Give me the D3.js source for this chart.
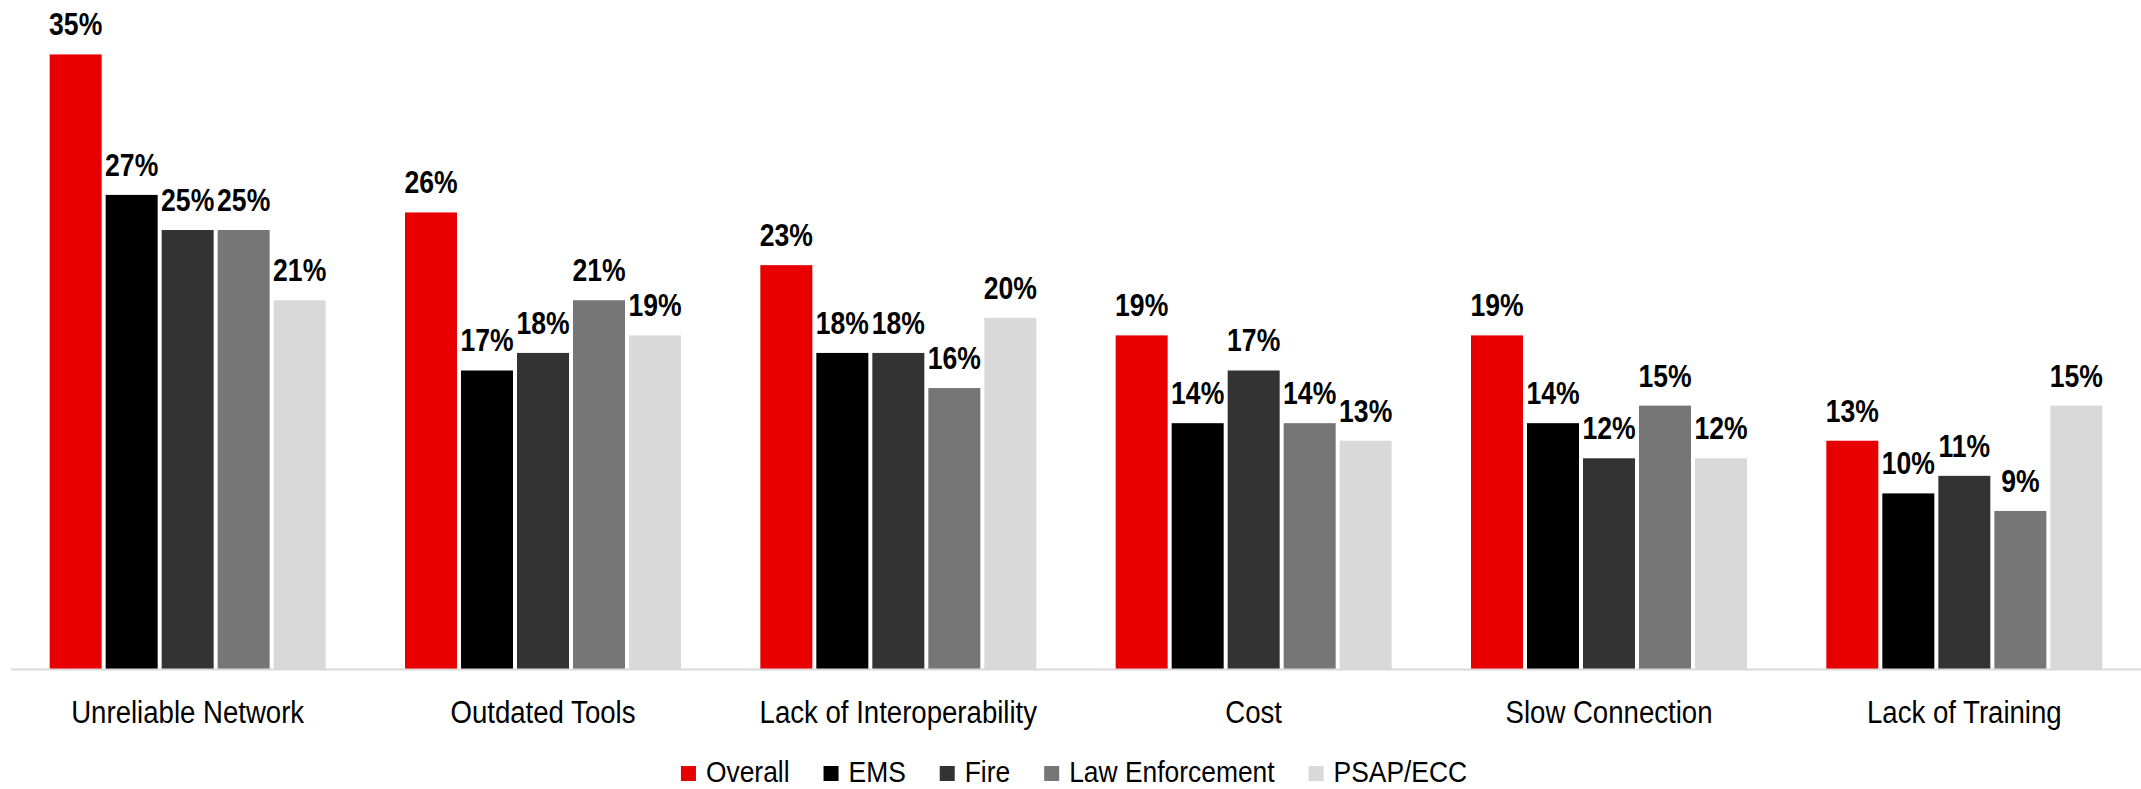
<!DOCTYPE html>
<html>
<head>
<meta charset="utf-8">
<script src="https://cdn.jsdelivr.net/npm/d3@7"></script>
<style>
  html, body { margin: 0; padding: 0; background: #fff; }
  svg { display: block; }
  text { font-family: "Liberation Sans", Arial, sans-serif; fill: #000; }
  .val { font-weight: bold; font-size: 32px; }
  .cat { font-size: 31px; }
  .leg { font-size: 30px; }
</style>
</head>
<body>
<svg id="chart" width="2141" height="789"></svg>
<script>
// values, in percent
let categories = ["Unreliable Network", "Outdated Tools", "Lack of Interoperability", "Cost", "Slow Connection", "Lack of Training"];
let seriesNames = ["Overall", "EMS", "Fire", "Law Enforcement", "PSAP/ECC"];
let seriesColors = ["#e80000", "#000000", "#333333", "#767676", "#d9d9d9"];
let overall = [35, 26, 23, 19, 19, 13];
let ems = [27, 17, 18, 14, 14, 10];
let fire = [25, 18, 18, 17, 12, 11];
let lawEnforcement = [25, 21, 16, 14, 15, 9];
let psap = [21, 19, 20, 13, 12, 15];

let series = [overall, ems, fire, lawEnforcement, psap];

let svg = d3.select("#chart");
let baseY = 669;
// the original uses a narrow face; squeeze Liberation Sans to match
let valSx = 0.83, catSx = 0.89, legSx = 0.88;

let x0 = d3.scaleBand().domain(categories).range([10, 2142]);
let x1 = d3.scaleBand().domain(seriesNames).range([0, 276]).paddingInner(4 / 56);
let y = d3.scaleLinear().domain([0, 38.1]).range([baseY, 0]);

let color = d3.scaleOrdinal().domain(seriesNames).range(seriesColors);

let rows = [];
categories.forEach((c, i) => {
  seriesNames.forEach((s, j) => {
    rows.push({cat: c, key: s, value: series[j][i]});
  });
});

let groupOff = (x0.bandwidth() - 276) / 2;
let barX = d => x0(d.cat) + groupOff + x1(d.key);

let g = svg.append("g");

g.selectAll("rect.bar").data(rows).enter().append("rect")
  .attr("class", "bar")
  .attr("x", barX)
  .attr("y", d => y(d.value))
  .attr("width", x1.bandwidth())
  .attr("height", d => baseY - y(d.value))
  .attr("fill", d => color(d.key));

g.selectAll("text.val").data(rows).enter().append("text")
  .attr("class", "val")
  .attr("transform", d => `translate(${barX(d) + x1.bandwidth() / 2},${y(d.value) - 19}) scale(${valSx},1)`)
  .attr("text-anchor", "middle")
  .text(d => d.value + "%");

// baseline
g.append("line")
  .attr("x1", 11).attr("x2", 2141)
  .attr("y1", baseY + 0.5).attr("y2", baseY + 0.5)
  .attr("stroke", "#d9d9d9").attr("stroke-width", 2);

// category labels
let xAxis = d3.axisBottom(x0).tickSize(0).tickPadding(0);
let ax = svg.append("g").attr("transform", `translate(0,${baseY})`).call(xAxis);
ax.select(".domain").remove();
ax.selectAll(".tick text")
  .attr("class", "cat")
  .attr("dy", null)
  .attr("y", null)
  .attr("transform", `translate(0,54) scale(${catSx},1)`)
  .attr("font-size", null)
  .attr("font-family", null);
ax.attr("font-size", null).attr("font-family", null);

// legend
let legend = svg.append("g");
let lx = 0;
let items = legend.selectAll("g").data(seriesNames).enter().append("g");
items.append("rect")
  .attr("y", 766)
  .attr("width", 15).attr("height", 15)
  .attr("fill", d => color(d));
items.append("text")
  .attr("class", "leg")
  .attr("transform", `translate(25,782) scale(${legSx},1)`)
  .text(d => d);
items.each(function () {
  let w = 25 + d3.select(this).select("text").node().getComputedTextLength() * legSx;
  d3.select(this).attr("transform", `translate(${lx},0)`);
  lx += w + 34;
});
let total = lx - 34;
legend.attr("transform", `translate(${1074 - total / 2},0)`);
</script>
</body>
</html>
